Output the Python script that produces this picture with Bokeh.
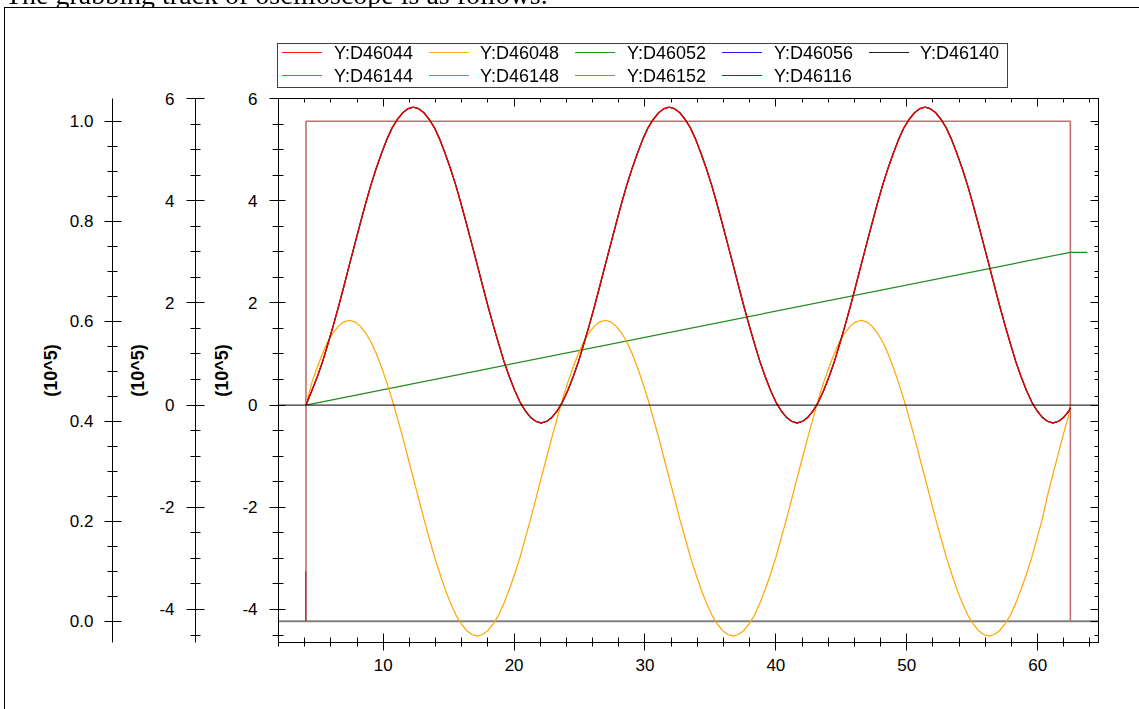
from bokeh.plotting import figure
from bokeh.layouts import column
from bokeh.models import (Range1d, LinearAxis, SingleIntervalTicker, FixedTicker, Span,
                          PrintfTickFormatter, CustomJSTickFormatter, Div)
from bokeh.embed import file_html
from bokeh.resources import INLINE

# ---------------- data ----------------
t = [4.10,
     4.56, 4.97, 5.38, 5.78, 6.19, 6.60, 7.01, 7.41, 7.82, 8.23,
     8.63, 9.04, 9.45, 9.86, 10.26, 10.67, 11.08, 11.49, 11.89,
     12.30, 12.71, 13.11, 13.52, 13.93, 14.34, 14.74, 15.15, 15.56, 15.97, 16.37, 16.78,
     17.19, 17.59, 18.00, 18.41, 18.82, 19.22, 19.63, 20.04, 20.45, 20.85, 21.26, 21.67,
     22.07, 22.48, 22.89, 23.30, 23.70, 24.11, 24.52, 24.93, 25.33, 25.74, 26.15, 26.56,
     26.96, 27.37, 27.78, 28.18, 28.59, 29.00, 29.41, 29.81, 30.22, 30.63, 31.04, 31.44,
     31.85, 32.26, 32.66, 33.07, 33.48, 33.89, 34.29, 34.70, 35.11, 35.52, 35.92, 36.33,
     36.74, 37.14, 37.55, 37.96, 38.37, 38.77, 39.18, 39.59, 40.00, 40.40, 40.81, 41.22,
     41.62, 42.03, 42.44, 42.85, 43.25, 43.66, 44.07, 44.48, 44.88, 45.29, 45.70, 46.11,
     46.51, 46.92, 47.33, 47.73, 48.14, 48.55, 48.96, 49.36, 49.77, 50.18, 50.59, 50.99,
     51.40, 51.81, 52.21, 52.62, 53.03, 53.44, 53.84, 54.25, 54.66, 55.07, 55.47, 55.88,
     56.29, 56.69, 57.10, 57.51, 57.92, 58.32, 58.73, 59.14, 59.55, 59.95, 60.36, 60.77,
     61.17, 61.58, 61.99, 62.40,
     62.50]

d46044 = [0.00,
          0.29, 0.56, 0.86, 1.20, 1.56, 1.94, 2.34, 2.74, 3.14, 3.54,
          3.92, 4.29, 4.62, 4.92, 5.19, 5.42, 5.59, 5.72, 5.80,
          5.83, 5.80, 5.72, 5.59, 5.42, 5.19, 4.92, 4.62, 4.29, 3.92, 3.54, 3.14,
          2.74, 2.34, 1.94, 1.56, 1.20, 0.86, 0.56, 0.29, 0.06, -0.11, -0.24, -0.32,
          -0.35, -0.32, -0.24, -0.11, 0.06, 0.29, 0.56, 0.86, 1.20, 1.56, 1.94, 2.34,
          2.74, 3.14, 3.54, 3.92, 4.29, 4.62, 4.92, 5.19, 5.42, 5.59, 5.72, 5.80,
          5.83, 5.80, 5.72, 5.59, 5.42, 5.19, 4.92, 4.62, 4.29, 3.92, 3.54, 3.14,
          2.74, 2.34, 1.94, 1.56, 1.20, 0.86, 0.56, 0.29, 0.06, -0.11, -0.24, -0.32,
          -0.35, -0.32, -0.24, -0.11, 0.06, 0.29, 0.56, 0.86, 1.20, 1.56, 1.94, 2.34,
          2.74, 3.14, 3.54, 3.92, 4.29, 4.62, 4.92, 5.19, 5.42, 5.59, 5.72, 5.80,
          5.83, 5.80, 5.72, 5.59, 5.42, 5.19, 4.92, 4.62, 4.29, 3.92, 3.54, 3.14,
          2.74, 2.34, 1.94, 1.56, 1.20, 0.86, 0.56, 0.29, 0.06, -0.11, -0.24, -0.32,
          -0.35, -0.32, -0.24, -0.11,
          -0.05]

d46048 = [0.00,
          0.45, 0.75, 1.02, 1.25, 1.42, 1.55, 1.63, 1.66, 1.63, 1.55,
          1.42, 1.25, 1.02, 0.75, 0.45, 0.12, -0.25, -0.63, -1.03,
          -1.43, -1.83, -2.23, -2.61, -2.98, -3.31, -3.61, -3.88, -4.11, -4.28, -4.41, -4.49,
          -4.52, -4.49, -4.41, -4.28, -4.11, -3.88, -3.61, -3.31, -2.98, -2.61, -2.23, -1.83,
          -1.43, -1.03, -0.63, -0.25, 0.12, 0.45, 0.75, 1.02, 1.25, 1.42, 1.55, 1.63,
          1.66, 1.63, 1.55, 1.42, 1.25, 1.02, 0.75, 0.45, 0.12, -0.25, -0.63, -1.03,
          -1.43, -1.83, -2.23, -2.61, -2.98, -3.31, -3.61, -3.88, -4.11, -4.28, -4.41, -4.49,
          -4.52, -4.49, -4.41, -4.28, -4.11, -3.88, -3.61, -3.31, -2.98, -2.61, -2.23, -1.83,
          -1.43, -1.03, -0.63, -0.25, 0.12, 0.45, 0.75, 1.02, 1.25, 1.42, 1.55, 1.63,
          1.66, 1.63, 1.55, 1.42, 1.25, 1.02, 0.75, 0.45, 0.12, -0.25, -0.63, -1.03,
          -1.43, -1.83, -2.23, -2.61, -2.98, -3.31, -3.61, -3.88, -4.11, -4.28, -4.41, -4.49,
          -4.52, -4.49, -4.41, -4.28, -4.11, -3.88, -3.61, -3.31, -2.98, -2.61, -2.23, -1.75,
          -1.35, -0.95, -0.55, -0.17,
          0.00]

assert len(t) == len(d46044) == len(d46048), (len(t), len(d46044), len(d46048))

ramp_t = [4.10, 62.50, 63.80]
d46052 = [0.00, 2.99, 2.99]

step_t = [4.10, 4.10, 62.50, 62.50]
d46116 = [0.0, 1.0, 1.0, 0.0]

edge_t = [4.08, 4.08]
edge_v = [0.0, 0.10]

base_t = [1.0, 66.0]
base_v = [0.0, 0.0]

legend_labels = ["Y:D46044", "Y:D46048", "Y:D46052", "Y:D46056", "Y:D46140",
                 "Y:D46144", "Y:D46148", "Y:D46152", "Y:D46116"]
legend_colors = ["#FF2020", "#FFB020", "#209A20", "#2020FF", "#202020",
                 "#FF20FF", "#20B8B8", "#8080C0", "#802020"]

title_text = "The grabbing track of oscilloscope is as follows."
unit_label = "(10^5)"

# ---------------- main figure ----------------
FONT = "Liberation Sans"
FL, FR, FT, FB = 278, 1098, 98, 642     # frame edges in canvas px
W, H = 1139, 709

p = figure(width=W, height=H, output_backend="svg", toolbar_location=None,
           x_range=Range1d(2.0, 64.65), y_range=Range1d(-4.646, 6.0),
           x_axis_location=None, y_axis_location=None,
           min_border_left=FL, min_border_right=W - FR,
           min_border_top=FT, min_border_bottom=H - FB)
p.xgrid.visible = False
p.ygrid.visible = False
p.outline_line_color = "#000000"
p.outline_line_width = 1
p.background_fill_color = "white"
p.border_fill_color = "white"
p.extra_y_ranges = {"A": Range1d(-0.0426, 1.0454)}

blank = CustomJSTickFormatter(code="return ''")


def style_axis(ax, maj_in, maj_out, min_in, min_out, standoff, hidden=False):
    ax.axis_line_color = "#000000"
    ax.major_tick_line_color = "#000000"
    ax.minor_tick_line_color = "#000000"
    ax.major_tick_in = maj_in
    ax.major_tick_out = maj_out
    ax.minor_tick_in = min_in
    ax.minor_tick_out = min_out
    ax.major_label_standoff = standoff
    ax.major_label_text_font = FONT
    ax.major_label_text_font_size = "17px"
    ax.major_label_text_color = None if hidden else "#000000"
    ax.axis_label_text_font = FONT
    ax.axis_label_text_font_size = "18px"
    ax.axis_label_text_font_style = "bold"
    ax.axis_label_text_color = "#000000"


def spacer(n):
    return LinearAxis(ticker=FixedTicker(ticks=[]), axis_line_color=None,
                      major_tick_out=0, minor_tick_out=0, major_tick_in=0,
                      minor_tick_in=0, major_label_standoff=0,
                      axis_label=" ", axis_label_text_font_size="1px",
                      axis_label_standoff=n)


# left axes: C (inner, main range), B (main range), A (0..1 range)
axC = LinearAxis(ticker=SingleIntervalTicker(interval=2, num_minor_ticks=4),
                 formatter=PrintfTickFormatter(format="%d"),
                 axis_label=unit_label, axis_label_standoff=7)
style_axis(axC, 7, 9, 5, 6, 12)
axB = LinearAxis(ticker=SingleIntervalTicker(interval=2, num_minor_ticks=4),
                 formatter=PrintfTickFormatter(format="%d"),
                 axis_label=unit_label, axis_label_standoff=8)
style_axis(axB, 9, 9, 5, 5, 12)
axA = LinearAxis(y_range_name="A",
                 ticker=SingleIntervalTicker(interval=0.2, num_minor_ticks=4),
                 formatter=PrintfTickFormatter(format="%.1f"),
                 axis_label=unit_label, axis_label_standoff=6)
style_axis(axA, 9, 8, 5, 5, 11)
p.add_layout(axC, "left")
p.add_layout(spacer(10), "left")
p.add_layout(axB, "left")
p.add_layout(spacer(9), "left")
p.add_layout(axA, "left")

# bottom / top axes
axX = LinearAxis(ticker=SingleIntervalTicker(interval=10, num_minor_ticks=5))
style_axis(axX, 9, 8, 5, 4, 8)
p.add_layout(axX, "below")
axT = LinearAxis(ticker=SingleIntervalTicker(interval=10, num_minor_ticks=5),
                 formatter=blank)
style_axis(axT, 8, 0, 4, 0, 0, hidden=True)
p.add_layout(axT, "above")

# right axes (inward ticks only)
axR1 = LinearAxis(ticker=SingleIntervalTicker(interval=2, num_minor_ticks=4),
                  formatter=blank)
style_axis(axR1, 8, 0, 4, 0, 0, hidden=True)
axR2 = LinearAxis(y_range_name="A",
                  ticker=SingleIntervalTicker(interval=0.2, num_minor_ticks=4),
                  formatter=blank)
style_axis(axR2, 8, 0, 4, 0, 0, hidden=True)
p.add_layout(axR1, "right")
p.add_layout(axR2, "right")

# ---------------- data lines ----------------
p.line(base_t, base_v, y_range_name="A", line_color="#808080", line_width=2)
p.line(step_t, d46116, y_range_name="A", line_color="#C07070", line_width=1.6)
p.line(edge_t, edge_v, y_range_name="A", line_color="#B03030", line_width=1.2)
p.add_layout(Span(location=0, dimension="width", line_color="#000000", line_width=1))
p.line(ramp_t, d46052, line_color="#1E8C1E", line_width=1.2)
p.line(t, d46048, line_color="#FFA500", line_width=1.2)
p.line(t, d46044, line_color="#000000", line_width=1.4)
p.line(t, d46044, line_color="#FF0000", line_width=1.2)

# ---------------- page title (cut off at the top), outer box and legend ----------------
html = [
    '<div style="position:fixed; left:4px; top:7px; width:1135px; height:702px; '
    'border-left:1px solid #000; border-top:1px solid #000; box-sizing:border-box; '
    'pointer-events:none;"></div>',
    '<div style="position:fixed; left:5px; top:-19px; height:26px; overflow:hidden; '
    'font-family:\'Liberation Serif\', serif; font-size:28px; line-height:28px; '
    'color:#000; white-space:nowrap;">' + title_text + '</div>',
    '<div style="position:fixed; left:277px; top:43px; width:731px; height:45px; '
    'box-sizing:border-box; border:1px solid #404040; background:#ffffff;"></div>',
]
for i, (lab, col) in enumerate(zip(legend_labels, legend_colors)):
    row, cidx = divmod(i, 5)
    yc = 52 + 23 * row
    lx = 282 + 146.7 * cidx
    html.append('<div style="position:fixed; left:%dpx; top:%dpx; width:40px; height:1px; '
                'background:%s;"></div>' % (round(lx), yc, col))
    html.append('<div style="position:fixed; left:%dpx; top:%dpx; height:20px; '
                'line-height:20px; font-family:\'Liberation Sans\', Arial, sans-serif; '
                'font-size:18px; color:#000; white-space:nowrap;">%s</div>'
                % (round(lx + 51.5), yc - 9, lab))
overlay = Div(text="".join(html), width=10, height=0)

open("out.html", "w").write(file_html(column(p, overlay), INLINE))
